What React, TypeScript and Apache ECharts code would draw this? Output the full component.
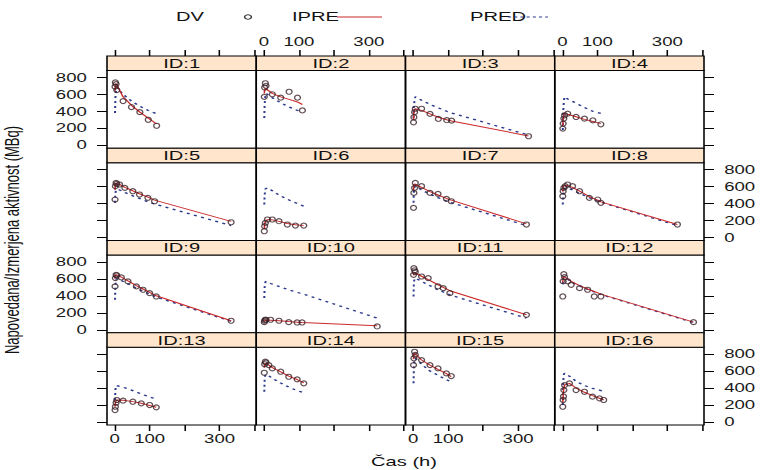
import React, { useEffect, useRef } from 'react';
import * as echarts from 'echarts';

// ---- data ----
const ids = [1, 2, 3, 4, 5, 6, 7, 8, 9, 10, 11, 12, 13, 14, 15, 16];

const times: number[][] = [
  [1, 2, 4, 6, 24, 48, 72, 96, 120],
  [1, 2, 4, 6, 24, 48, 72, 96, 110],
  [1, 2, 4, 6, 24, 48, 72, 96, 110, 330],
  [1, 2, 4, 6, 15, 39, 63, 87, 110],
  [1, 2, 4, 6, 14, 29, 52, 71, 95, 114, 333],
  [1, 2, 4, 10, 24, 43, 67, 90, 114],
  [1, 2, 4, 6, 24, 48, 71, 95, 109, 324],
  [1, 2, 4, 8, 15, 29, 49, 77, 101, 110, 329],
  [1, 2, 4, 6, 19, 38, 62, 81, 100, 119, 333],
  [1, 2, 4, 6, 19, 43, 71, 95, 109, 324],
  [1, 2, 4, 6, 24, 43, 71, 86, 105, 324],
  [1, 2, 4, 6, 15, 25, 49, 72, 91, 110, 375],
  [1, 2, 4, 6, 24, 52, 76, 100, 119],
  [1, 2, 4, 6, 14, 24, 48, 71, 95, 114],
  [1, 2, 4, 6, 24, 48, 71, 95, 109],
  [1, 2, 3, 4, 6, 20, 39, 63, 86, 106, 118],
];

const dv: number[][] = [
  [690, 740, 720, 650, 520, 450, 390, 300, 230],
  [570, 680, 730, 700, 600, 560, 630, 560, 410],
  [270, 330, 390, 430, 430, 370, 310, 295, 290, 106],
  [196, 255, 314, 353, 373, 333, 314, 294, 247],
  [447, 604, 643, 630, 624, 584, 545, 506, 467, 427, 180],
  [74, 133, 172, 212, 212, 192, 153, 141, 141],
  [349, 525, 584, 643, 604, 525, 514, 455, 427, 153],
  [486, 545, 584, 604, 624, 604, 545, 467, 447, 408, 153],
  [510, 608, 647, 640, 616, 569, 510, 471, 431, 392, 106],
  [90, 106, 118, 118, 118, 106, 90, 86, 86, 39],
  [647, 725, 700, 680, 627, 608, 510, 490, 431, 176],
  [392, 569, 655, 620, 569, 529, 490, 471, 392, 392, 90],
  [141, 180, 227, 259, 251, 239, 220, 200, 173],
  [580, 680, 710, 700, 670, 631, 592, 533, 502, 455],
  [670, 750, 827, 790, 729, 670, 631, 572, 541],
  [180, 259, 300, 376, 435, 455, 376, 356, 298, 279, 259],
];

const ipre: number[][] = [
  [640, 700, 725, 720, 570, 470, 390, 320, 250],
  [610, 650, 670, 665, 610, 570, 540, 510, 480],
  [300, 380, 420, 430, 410, 370, 330, 300, 285, 110],
  [230, 300, 350, 373, 365, 335, 305, 280, 255],
  [560, 620, 640, 638, 625, 590, 550, 515, 475, 440, 190],
  [100, 150, 190, 210, 208, 190, 165, 150, 140],
  [560, 620, 630, 625, 590, 540, 500, 460, 440, 161],
  [540, 590, 610, 615, 610, 590, 545, 480, 440, 420, 153],
  [600, 640, 650, 645, 620, 575, 520, 480, 440, 400, 106],
  [95, 106, 112, 115, 113, 105, 96, 90, 86, 47],
  [640, 665, 670, 668, 630, 590, 530, 500, 460, 176],
  [560, 610, 627, 625, 600, 570, 520, 480, 450, 420, 90],
  [180, 220, 250, 259, 255, 240, 220, 195, 173],
  [640, 680, 690, 688, 670, 640, 590, 540, 500, 460],
  [740, 790, 810, 805, 730, 670, 620, 570, 535],
  [230, 300, 360, 400, 435, 455, 400, 350, 310, 280, 259],
];

const pred: number[][] = [
  [380, 560, 650, 680, 600, 520, 460, 410, 370],
  [320, 480, 580, 610, 560, 500, 450, 410, 390],
  [320, 450, 540, 570, 530, 480, 440, 400, 380, 120],
  [180, 380, 520, 570, 545, 495, 445, 400, 375],
  [408, 520, 565, 570, 560, 530, 490, 460, 420, 395, 141],
  [388, 500, 570, 584, 550, 500, 450, 410, 368],
  [408, 540, 590, 604, 560, 510, 470, 430, 410, 141],
  [388, 500, 560, 584, 580, 560, 520, 470, 430, 415, 141],
  [353, 520, 590, 604, 580, 540, 490, 455, 420, 385, 100],
  [373, 500, 560, 569, 545, 510, 470, 440, 425, 137],
  [392, 560, 600, 608, 570, 530, 470, 445, 410, 137],
  [540, 600, 620, 620, 595, 565, 515, 475, 445, 415, 85],
  [259, 380, 430, 435, 410, 370, 330, 295, 270],
  [357, 500, 560, 565, 545, 515, 460, 410, 370, 345],
  [455, 650, 740, 750, 680, 600, 550, 500, 470],
  [200, 400, 520, 560, 573, 540, 480, 430, 395, 376, 360],
];

const xTicks = [0, 100, 200, 300, 400];
const xTickLabels = [0, 100, 300];
const yTicks = [0, 200, 400, 600, 800];

const legendItems = ['DV', 'IPRE', 'PRED'];
const xTitle = 'Čas (h)';
const yTitle = 'Napovedana/Izmerjena aktivnost (MBq)';

// ---- layout ----
const S = 1.55; // horizontal stretch of the original picture
const FONT = '"Liberation Sans", Arial, sans-serif';
const X_MIN = -22;
const X_MAX = 405;
const Y_MIN = -35;
const Y_MAX = 880;
const PX0 = 107;
const PX1 = 704;
const PY0 = 56;
const PY1 = 425;

function buildOption() {
  const colW = (PX1 - PX0) / 4 / S;
  const rowH = (PY1 - PY0) / 4;
  const stripH = 14.5;
  const grids: any[] = [];
  const xAxes: any[] = [];
  const yAxes: any[] = [];
  const series: any[] = [];
  const graphics: any[] = [];

  for (let i = 0; i < ids.length; i++) {
    const r = Math.floor(i / 4);
    const c = i % 4;
    const left = PX0 / S + c * colW;
    const stripTop = PY0 + r * rowH;
    const top = stripTop + stripH;
    grids.push({
      left,
      top,
      width: colW,
      height: rowH - stripH,
      show: true,
      borderColor: '#000',
      borderWidth: 1,
      backgroundColor: 'transparent',
    });
    const xOuter = r === 0 || r === 3;
    const xLab = (r === 0 && c % 2 === 1) || (r === 3 && c % 2 === 0);
    xAxes.push({
      gridIndex: i,
      type: 'value',
      min: X_MIN,
      max: X_MAX,
      position: r === 0 ? 'top' : 'bottom',
      offset: r === 0 ? stripH : 0,
      axisLine: { show: false, onZero: false },
      axisTick: {
        show: xOuter,
        length: 6,
        inside: false,
        customValues: xTicks,
        lineStyle: { color: '#000', width: 1 },
      },
      axisLabel: {
        show: xLab,
        customValues: xTickLabels,
        margin: 8,
        fontSize: 12,
        color: '#1a1a1a',
        fontFamily: FONT,
      },
      splitLine: { show: false },
    });
    const yOuter = c === 0 || c === 3;
    const yLab = (c === 0 && r % 2 === 0) || (c === 3 && r % 2 === 1);
    yAxes.push({
      gridIndex: i,
      type: 'value',
      min: Y_MIN,
      max: Y_MAX,
      position: c === 3 ? 'right' : 'left',
      axisLine: { show: false, onZero: false },
      axisTick: {
        show: yOuter,
        length: 10 / S,
        inside: false,
        customValues: yTicks,
        lineStyle: { color: '#000', width: 1 },
      },
      axisLabel: {
        show: yLab,
        customValues: yTicks,
        margin: 13,
        fontSize: 12,
        color: '#1a1a1a',
        fontFamily: FONT,
      },
      splitLine: { show: false },
    });

    series.push({
      type: 'line',
      name: 'PRED',
      xAxisIndex: i,
      yAxisIndex: i,
      data: times[i].map((t, k) => [t, pred[i][k]]),
      symbol: 'none',
      showSymbol: false,
      silent: true,
      lineStyle: { color: '#2d3a8c', width: 1.3, type: [2, 3] },
      z: 2,
    });
    series.push({
      type: 'line',
      name: 'IPRE',
      xAxisIndex: i,
      yAxisIndex: i,
      data: times[i].map((t, k) => [t, ipre[i][k]]),
      symbol: 'none',
      showSymbol: false,
      silent: true,
      lineStyle: { color: '#cc2b2b', width: 1 },
      z: 3,
    });
    series.push({
      type: 'scatter',
      name: 'DV',
      xAxisIndex: i,
      yAxisIndex: i,
      data: times[i].map((t, k) => [t, dv[i][k]]),
      symbol: 'circle',
      symbolSize: [3.8, 5],
      silent: true,
      itemStyle: { color: 'rgba(0,0,0,0)', borderColor: '#3a2228', borderWidth: 1 },
      z: 4,
    });

    graphics.push({
      type: 'rect',
      shape: { x: left, y: stripTop, width: colW, height: stripH },
      style: { fill: '#ffe5cc', stroke: '#000', lineWidth: 1 },
      z: 5,
    });
    graphics.push({
      type: 'text',
      x: left + colW / 2,
      y: stripTop + stripH / 2 + 0.5,
      style: {
        text: 'ID:' + ids[i],
        align: 'center',
        verticalAlign: 'middle',
        fontSize: 13,
        fontFamily: FONT,
        fill: '#111',
      },
      z: 6,
    });
  }

  // legend
  const ly = 17;
  graphics.push({
    type: 'text',
    x: 190 / S,
    y: ly,
    style: { text: legendItems[0], align: 'center', verticalAlign: 'middle', fontSize: 13, fontFamily: FONT, fill: '#111' },
  });
  graphics.push({
    type: 'circle',
    shape: { cx: 248 / S, cy: ly, r: 2.2 },
    style: { fill: 'none', stroke: '#333', lineWidth: 1 },
  });
  graphics.push({
    type: 'text',
    x: 292 / S,
    y: ly,
    style: { text: legendItems[1], align: 'left', verticalAlign: 'middle', fontSize: 13, fontFamily: FONT, fill: '#111' },
  });
  graphics.push({
    type: 'line',
    shape: { x1: 337 / S, y1: ly, x2: 382 / S, y2: ly },
    style: { stroke: '#cc2b2b', lineWidth: 1 },
  });
  graphics.push({
    type: 'text',
    x: 470 / S,
    y: ly,
    style: { text: legendItems[2], align: 'left', verticalAlign: 'middle', fontSize: 13, fontFamily: FONT, fill: '#111' },
  });
  graphics.push({
    type: 'line',
    shape: { x1: 508 / S, y1: ly, x2: 548 / S, y2: ly },
    style: { stroke: '#2d3a8c', lineWidth: 1.2, lineDash: [2, 2] },
  });

  // titles
  graphics.push({
    type: 'text',
    x: 404 / S,
    y: 462,
    style: { text: xTitle, align: 'center', verticalAlign: 'middle', fontSize: 13, fontFamily: FONT, fill: '#111' },
  });
  graphics.push({
    type: 'text',
    x: 12 / S,
    y: 240,
    rotation: Math.PI / 2,
    style: { text: yTitle, align: 'center', verticalAlign: 'middle', fontSize: 13, fontFamily: FONT, fill: '#111' },
  });

  return {
    animation: false,
    backgroundColor: '#fff',
    grid: grids,
    xAxis: xAxes,
    yAxis: yAxes,
    series,
    graphic: { elements: graphics },
  };
}

export default function App() {
  const ref = useRef<HTMLDivElement>(null);
  useEffect(() => {
    if (!ref.current) return;
    const chart = echarts.init(ref.current, null, { renderer: 'svg' });
    chart.setOption(buildOption() as any);
    return () => chart.dispose();
  }, []);
  return (
    <div
      style={{
        position: 'fixed',
        left: 0,
        top: 0,
        width: 762,
        height: 470,
        overflow: 'hidden',
        background: '#fff',
      }}
    >
      <div
        ref={ref}
        style={{
          width: 762 / S,
          height: 470,
          transform: `scaleX(${S})`,
          transformOrigin: '0 0',
        }}
      />
    </div>
  );
}
